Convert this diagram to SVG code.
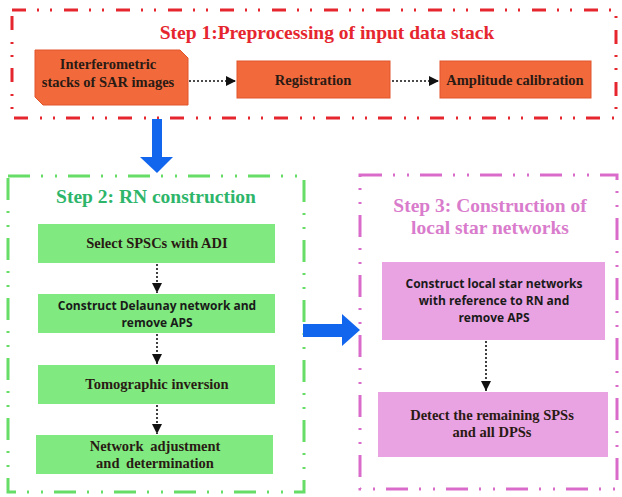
<svg xmlns="http://www.w3.org/2000/svg" width="622" height="497" viewBox="0 0 622 497">
<defs>
<marker id="ah" viewBox="0 0 10 10" refX="10" refY="5" markerWidth="10" markerHeight="10" markerUnits="userSpaceOnUse" orient="auto">
<path d="M0,0 L10,5 L0,10 z" fill="#111"/>
</marker>
</defs>
<style>
.frame{fill:none;stroke-width:3}
.red{stroke:#e6262e;stroke-dasharray:14 11 2 11 2 12}
.grn{stroke:#66dd66;stroke-dasharray:22 11 2 12 2 11}
.pnk{stroke:#d96cca;stroke-dasharray:22 11 2 12 2 11}
.org{fill:#f26a3c;stroke:#e0552a;stroke-width:1}
.gbox{fill:#80ea80}
.pbox{fill:#eaa3e2}
.serif{font-family:"Liberation Serif","Times New Roman",serif;font-weight:bold;text-anchor:middle}
.sans{font-family:"Open Sans","Liberation Sans",sans-serif;font-weight:bold;text-anchor:middle}
.t{font-size:14.5px;fill:#2a1a14}
.ts{font-size:12px;fill:#1a1a1a}
.ttl{font-size:19.5px}
.conn{stroke:#111;stroke-width:1.6;stroke-dasharray:2 2;fill:none;marker-end:url(#ah)}
.blue{fill:#1266ee}
</style>
<g id="step1">
<rect class="frame red" x="12" y="10" width="604" height="108"/>
<text class="serif ttl" x="327" y="39" fill="#e6262e">Step 1:Preprocessing of input data stack</text>
</g>
<g id="n-interf">
<path class="org" d="M35,50 H180 L188,58 V105 H43 L35,97 Z"/>
<text class="serif t" x="108" y="69">Interferometric</text>
<text class="serif t" x="108" y="87">stacks of SAR images</text>
</g>
<g id="n-reg">
<rect class="org" x="237" y="61" width="153" height="37"/>
<text class="serif t" x="313" y="85">Registration</text>
</g>
<g id="n-amp">
<rect class="org" x="440" y="61" width="151" height="37"/>
<text class="serif t" x="515" y="85">Amplitude calibration</text>
</g>
<g id="step2">
<rect class="frame grn" x="8" y="176" width="296" height="316"/>
<text class="serif ttl" x="156" y="203" fill="#2db56a">Step 2: RN construction</text>
</g>
<g id="n-select">
<rect class="gbox" x="38" y="224" width="237" height="39"/>
<text class="serif t" x="157" y="248" fill="#1a1a1a">Select SPSCs with ADI</text>
</g>
<g id="n-delaunay">
<rect class="gbox" x="38" y="294" width="237" height="39"/>
<text class="sans ts" x="157" y="310">Construct Delaunay network and</text>
<text class="sans ts" x="157" y="327">remove APS</text>
</g>
<g id="n-tomo">
<rect class="gbox" x="38" y="365" width="237" height="39"/>
<text class="serif t" x="157" y="389" fill="#1a1a1a">Tomographic inversion</text>
</g>
<g id="n-netadj">
<rect class="gbox" x="36" y="435" width="237" height="39"/>
<text class="serif t" x="155" y="451" fill="#1a1a1a" word-spacing="3">Network adjustment</text>
<text class="serif t" x="155" y="468" fill="#1a1a1a" word-spacing="3">and determination</text>
</g>
<g id="step3">
<rect class="frame pnk" x="360" y="175" width="257" height="314"/>
<text class="serif ttl" x="490" y="212" fill="#d97ccc">Step 3: Construction of</text>
<text class="serif ttl" x="490" y="234" fill="#d97ccc">local star networks</text>
</g>
<g id="n-star">
<rect class="pbox" x="382" y="262" width="223" height="78"/>
<text class="sans ts" x="494" y="288">Construct local star networks</text>
<text class="sans ts" x="494" y="305">with reference to RN and</text>
<text class="sans ts" x="494" y="322">remove APS</text>
</g>
<g id="n-detect">
<rect class="pbox" x="378" y="392" width="230" height="65"/>
<text class="serif t" x="492" y="420" fill="#1a1a1a">Detect the remaining SPSs</text>
<text class="serif t" x="492" y="437" fill="#1a1a1a">and all DPSs</text>
</g>
<g id="connectors">
<line class="conn" x1="189" y1="81" x2="236" y2="81"/>
<line class="conn" x1="392" y1="81" x2="439" y2="81"/>
<line class="conn" x1="157" y1="264" x2="157" y2="293"/>
<line class="conn" x1="157" y1="334" x2="157" y2="364"/>
<line class="conn" x1="157" y1="405" x2="157" y2="434"/>
<line class="conn" x1="486" y1="341" x2="486" y2="391"/>
<path class="blue" d="M152,119 H162 V157 H173 L157,173 L140,157 H152 Z"/>
<path class="blue" d="M303,324 H342 V314 L360,330 L342,346 V337 H303 Z"/>
</g>
</svg>
